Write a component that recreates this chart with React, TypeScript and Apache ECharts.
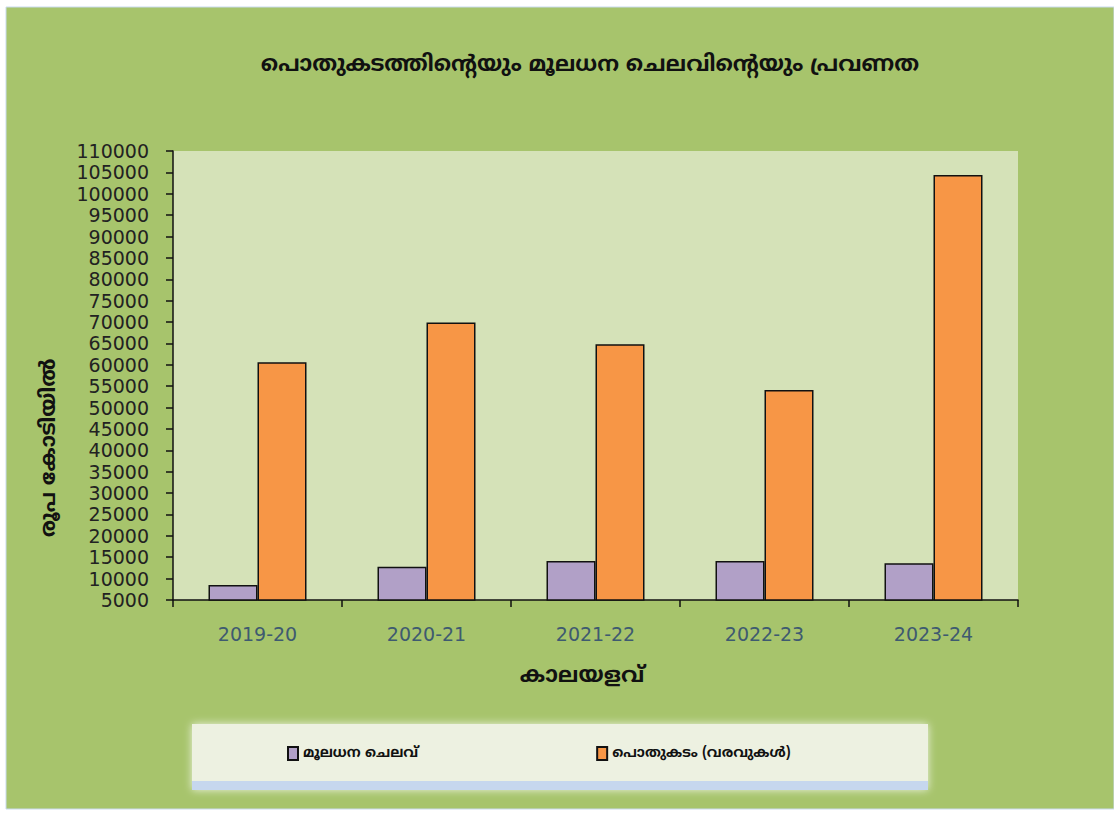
import React, { useEffect, useRef } from "react";
import * as echarts from "echarts";

const categories = ["2019-20", "2020-21", "2021-22", "2022-23", "2023-24"];
const capitalExpenditure = [8500, 12800, 14100, 14100, 13600];
const publicDebt = [60600, 69900, 64800, 54100, 104400];
const seriesNames = ["മൂലധന ചെലവ്", "പൊതുകടം (വരവുകൾ)"];
const titleText = "പൊതുകടത്തിന്റെയും മൂലധന ചെലവിന്റെയും പ്രവണത";
const yAxisName = "രൂപ കോടിയിൽ";
const xAxisName = "കാലയളവ്";

const ML = "'Noto Sans Malayalam', 'Noto Sans', 'DejaVu Sans', sans-serif";

export default function App() {
  const ref = useRef<HTMLDivElement>(null);
  useEffect(() => {
    document.body.style.margin = "0";
    const chart = echarts.init(ref.current!, null, { renderer: "svg" });
    chart.setOption({
      animation: false,
      backgroundColor: "#ffffff",
      graphic: [
        {
          type: "rect",
          z: -10,
          shape: { x: 6, y: 7, width: 1108, height: 802 },
          style: { fill: "#A7C46C", stroke: "#C9DAEE", lineWidth: 1 },
        },
        {
          type: "rect",
          z: -5,
          shape: { x: 192, y: 724, width: 736, height: 66 },
          style: { fill: "#C6D7EE", shadowBlur: 8, shadowColor: "rgba(255,255,255,0.8)" },
        },
        {
          type: "rect",
          z: -4,
          shape: { x: 192, y: 724, width: 736, height: 57 },
          style: { fill: "#EDF1E1" },
        },
        {
          type: "text",
          x: 590,
          y: 65,
          style: {
            text: titleText,
            fontFamily: ML,
            fontWeight: "bold",
            fontSize: 22,
            fill: "#111",
            textAlign: "center",
            textVerticalAlign: "middle",
          },
        },
        {
          type: "text",
          x: 582,
          y: 676,
          style: {
            text: xAxisName,
            fontFamily: ML,
            fontWeight: "bold",
            fontSize: 22,
            fill: "#111",
            textAlign: "center",
            textVerticalAlign: "middle",
          },
        },
        {
          type: "text",
          x: 50,
          y: 448,
          rotation: Math.PI / 2,
          style: {
            text: yAxisName,
            fontFamily: ML,
            fontWeight: "bold",
            fontSize: 21,
            fill: "#111",
            textAlign: "center",
            textVerticalAlign: "middle",
          },
        },
      ],
      legend: {
        data: seriesNames,
        left: 282,
        top: 741,
        itemGap: 178,
        itemWidth: 10,
        itemHeight: 13,
        icon: "rect",
        textStyle: { fontFamily: ML, fontWeight: "bold", fontSize: 14, color: "#111" },
      },
      grid: {
        left: 173,
        right: 96,
        top: 151,
        bottom: 214,
        show: true,
        backgroundColor: "#D5E2B8",
        borderWidth: 0,
      },
      xAxis: {
        type: "category",
        data: categories,
        axisLine: { lineStyle: { color: "#111", width: 1.5 } },
        axisTick: { show: true, inside: false, length: 7, lineStyle: { color: "#111", width: 1.5 } },
        axisLabel: { fontFamily: "'DejaVu Sans', sans-serif", fontSize: 19, color: "#3E5A70", margin: 24 },
        splitLine: { show: false },
      },
      yAxis: {
        type: "value",
        min: 5000,
        max: 110000,
        interval: 5000,
        axisLine: { show: true, lineStyle: { color: "#111", width: 1.5 } },
        axisTick: { show: true, inside: false, length: 7, lineStyle: { color: "#111", width: 1.5 } },
        axisLabel: {
          fontFamily: "'DejaVu Sans', sans-serif",
          fontSize: 19,
          color: "#222",
          margin: 24,
          formatter: (v: number) => String(v),
        },
        splitLine: { show: false },
      },
      series: [
        {
          name: seriesNames[0],
          type: "bar",
          data: capitalExpenditure,
          barWidth: 49,
          barGap: "0%",
          itemStyle: { color: "#B1A0C7", borderColor: "#111", borderWidth: 1.5 },
        },
        {
          name: seriesNames[1],
          type: "bar",
          data: publicDebt,
          barWidth: 49,
          barGap: "0%",
          itemStyle: { color: "#F79646", borderColor: "#111", borderWidth: 1.5 },
        },
      ],
    });
    return () => chart.dispose();
  }, []);
  return <div ref={ref} style={{ width: 1114, height: 814 }} />;
}
